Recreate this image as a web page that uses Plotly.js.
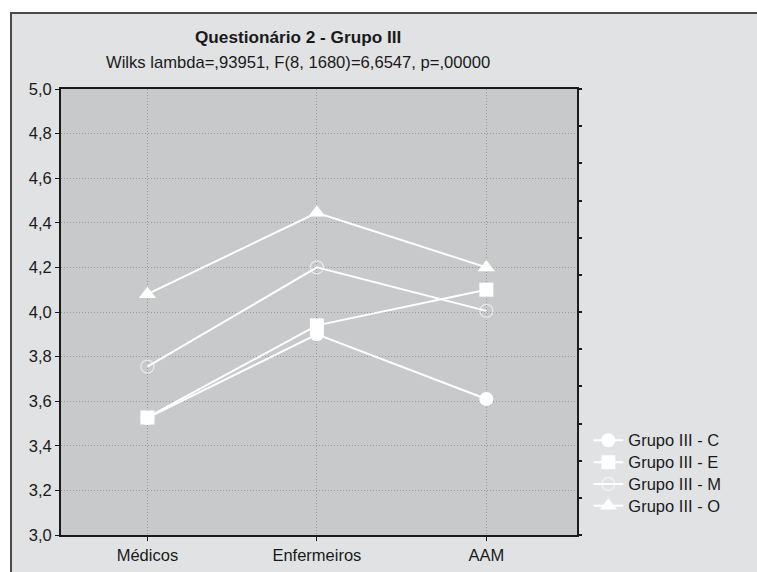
<!DOCTYPE html>
<html>
<head>
<meta charset="utf-8">
<script src="https://cdn.plot.ly/plotly-3.0.1.min.js"></script>
<style>
html,body{margin:0;padding:0;background:#ffffff;width:757px;height:572px;overflow:hidden;}
#chart{position:absolute;left:10px;top:12px;width:745px;height:558px;border-left:2px solid #4a4a4a;border-top:2px solid #4a4a4a;}
</style>
</head>
<body>
<div id="chart"></div>
<script>
const categories = ["Médicos", "Enfermeiros", "AAM"];
const seriesNames = ["Grupo III - C", "Grupo III - E", "Grupo III - M", "Grupo III - O"];
const grupoC = [3.525, 3.90, 3.61];
const grupoE = [3.527, 3.94, 4.10];
const grupoM = [3.755, 4.20, 4.005];
const grupoO = [4.08, 4.445, 4.20];
const yTickVals = [3.0, 3.2, 3.4, 3.6, 3.8, 4.0, 4.2, 4.4, 4.6, 4.8, 5.0];
const yTickText = ["3,0","3,2","3,4","3,6","3,8","4,0","4,2","4,4","4,6","4,8","5,0"];
const titleText = "<b>Questionário 2 - Grupo III</b>";
const subtitleText = "Wilks lambda=,93951, F(8, 1680)=6,6547, p=,00000";

const series = [grupoC, grupoE, grupoM, grupoO];
const symbols = ["circle", "square", "circle-open", "triangle-up"];
const markerColors = ["#ffffff", "#ffffff", "rgba(255,255,255,0.6)", "#ffffff"];
const sizes = [14, 14, 13, 15];

const traces = series.map((vals, i) => ({
  type: "scatter",
  mode: "lines+markers",
  name: '<span style="font-size:16.5px">' + seriesNames[i] + '</span>',
  x: categories,
  y: vals,
  line: {color: "#ffffff", width: 2},
  marker: {
    symbol: symbols[i],
    size: sizes[i],
    color: markerColors[i],
    line: i === 2 ? {color: "rgba(255,255,255,0.6)", width: 1.3} : {width: 0}
  }
}));

// right-hand frame ticks (secondary axis)
traces.push({
  type: "scatter", mode: "none", x: categories, y: [0, 0, 0],
  yaxis: "y2", showlegend: false, hoverinfo: "skip"
});

const FAM = "Liberation Sans, Arial, sans-serif";
const INK = "#1a1a1a";

const layout = {
  width: 745, height: 558,
  margin: {l: 49, r: 180, t: 75, b: 37},
  paper_bgcolor: "#e1e2e4",
  plot_bgcolor: "#c8c9cb",
  font: {family: FAM, color: INK, size: 16},
  showlegend: true,
  legend: {
    x: 1.022, xanchor: "left", y: 0.248, yanchor: "top",
    bgcolor: "rgba(0,0,0,0)",
    font: {family: FAM, size: 14.5, color: INK},
    itemwidth: 30, tracegroupgap: 0
  },
  xaxis: {
    type: "category",
    range: [-0.51, 2.535],
    showgrid: true, gridcolor: "#999999", griddash: "1px,2px", gridwidth: 1,
    showline: true, linecolor: INK, linewidth: 2, mirror: true,
    ticks: "outside", ticklen: 4, tickcolor: INK,
    tickfont: {family: FAM, size: 16.5, color: INK},
    zeroline: false, fixedrange: true
  },
  yaxis: {
    range: [3.0, 5.0],
    tickvals: yTickVals, ticktext: yTickText,
    showgrid: true, gridcolor: "#999999", griddash: "1px,2px", gridwidth: 1,
    showline: true, linecolor: INK, linewidth: 2, mirror: true,
    ticks: "outside", ticklen: 4, tickcolor: INK,
    tickfont: {family: FAM, size: 16.5, color: INK},
    zeroline: false, fixedrange: true
  },
  yaxis2: {
    overlaying: "y", side: "right", range: [0, 12], dtick: 1,
    showgrid: false, showticklabels: false, zeroline: false,
    ticks: "outside", ticklen: 4, tickcolor: INK, tickwidth: 2,
    showline: false, fixedrange: true
  },
  annotations: [
    {text: titleText, xref: "paper", yref: "paper", x: 0.459, y: 1, yshift: 52,
     xanchor: "center", yanchor: "middle", showarrow: false,
     font: {family: FAM, size: 17.2, color: INK}},
    {text: subtitleText, xref: "paper", yref: "paper", x: 0.459, y: 1, yshift: 27,
     xanchor: "center", yanchor: "middle", showarrow: false,
     font: {family: FAM, size: 16.6, color: INK}}
  ]
};

Plotly.newPlot("chart", traces, layout, {displayModeBar: false, staticPlot: true});
</script>
</body>
</html>
